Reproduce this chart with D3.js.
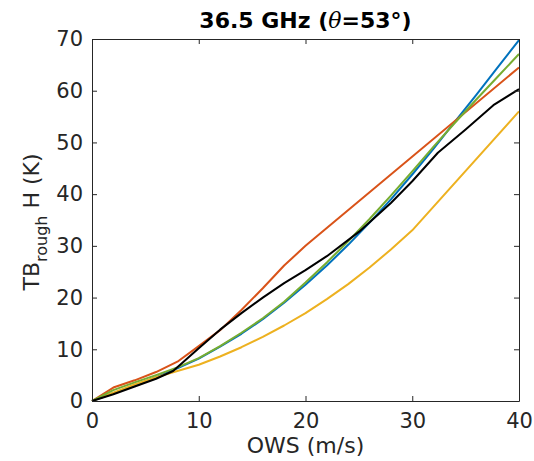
<!DOCTYPE html>
<html>
<head>
<meta charset="utf-8">
<script src="https://cdn.jsdelivr.net/npm/d3@7"></script>
<style>
body { margin:0; background:#fff; }
text { font-family: "DejaVu Sans", sans-serif; fill:#262626; }
</style>
</head>
<body>
<svg id="svg1" width="534" height="461"></svg>
<script>
var svg1 = d3.select('#svg1');
var mLeft = 92, mRight = 519, mTop = 39, mBottom = 401;

// wind speed (m/s) and brightness temperature (K) per curve
var ows_a = [0,2,4,6,8,10,12,14,16,18,20,22,24,26,28,30,32,34,36,38,40];
var blue   = [0,1.5,3,4.6,6.3,8.2,10.5,13,15.8,19,22.5,26.2,30.2,34.5,39,43.8,48.8,54,59.2,64.5,69.8];
var green  = [0,2.1,3.6,5,6.5,8.3,10.6,13.2,16,19.2,22.9,26.8,30.9,35.2,39.7,44.4,49.2,53.8,58.3,62.7,67.1];
var ows_o = [0,2,4,6,8,10,12,14,16,18,20,40];
var orange = [0,2.6,4,5.6,7.6,10.6,13.7,17.6,21.8,26.2,30,64.5];
var ows_y = [0,2,4,6,8,10,12,14,16,18,20,22,24,26,28,30,40];
var yellow = [0,1.6,3.2,4.6,5.8,7,8.6,10.4,12.4,14.6,17,19.7,22.6,25.8,29.3,33,56];
var ows_k = [0,2,4,6,7.6,10,12,14,16,18,20,22,25,28,30,32.4,35,37.6,40];
var black  = [0,1.3,2.8,4.3,5.8,10.2,13.8,17,20,22.8,25.3,28,32.7,38.3,42.5,48,52.5,57.2,60.3];

var xTicks = [0,10,20,30,40];
var yTicks = [0,10,20,30,40,50,60,70];

var series = [
	{x: ows_a, y: blue, c: '#0072BD'},
	{x: ows_o, y: orange, c: '#D95319'},
	{x: ows_y, y: yellow, c: '#EDB120'},
	{x: ows_a, y: green, c: '#77AC30'},
	{x: ows_k, y: black, c: '#000000'}
];

var x = d3.scaleLinear().domain([0,40]).range([mLeft,mRight]);
var y = d3.scaleLinear().domain([0,70]).range([mBottom,mTop]);

var line = d3.line().x(d => x(d[0])).y(d => y(d[1]));
svg1.selectAll('path.s').data(series).enter().append('path')
	.attr('class','s')
	.attr('d', s => line(s.x.map((v,i) => [v, s.y[i]])))
	.attr('fill','none').attr('stroke', s => s.c).attr('stroke-width', 2)
	.attr('stroke-linejoin','round');

// axes (box on, ticks inward)
var tl = 5;
function styleAxis(g) {
	g.select('.domain').attr('stroke','#262626');
	g.selectAll('.tick line').attr('stroke','#262626');
	g.selectAll('text').style('font-size','21px').attr('fill','#262626');
}
svg1.append('g').attr('transform','translate(0,'+mBottom+')')
	.call(d3.axisBottom(x).tickValues(xTicks).tickSizeInner(-tl).tickSizeOuter(0).tickPadding(12))
	.call(styleAxis);
svg1.append('g').attr('transform','translate(0,'+mTop+')')
	.call(d3.axisTop(x).tickValues(xTicks).tickSizeInner(-tl).tickSizeOuter(0).tickFormat(''))
	.call(styleAxis);
svg1.append('g').attr('transform','translate('+mLeft+',0)')
	.call(d3.axisLeft(y).tickValues(yTicks).tickSizeInner(-tl).tickSizeOuter(0).tickPadding(9))
	.call(styleAxis);
svg1.append('g').attr('transform','translate('+mRight+',0)')
	.call(d3.axisRight(y).tickValues(yTicks).tickSizeInner(-tl).tickSizeOuter(0).tickFormat(''))
	.call(styleAxis);

// title
var t = svg1.append('text').attr('x',(mLeft+mRight)/2).attr('y',28)
	.attr('text-anchor','middle').style('font-size','22px').style('font-weight','bold');
t.append('tspan').text('36.5 GHz (');
t.append('tspan').style('font-style','italic').style('font-weight','normal').style('font-family','"DejaVu Serif", serif').text('θ');
t.append('tspan').text('=53°)');
t.selectAll('tspan').style('fill','#000');

// axis labels
svg1.append('text').attr('x',(mLeft+mRight)/2).attr('y',453)
	.attr('text-anchor','middle').style('font-size','22px').text('OWS (m/s)');
var yl = svg1.append('text').attr('transform','translate(39,222) rotate(-90)')
	.attr('text-anchor','middle').style('font-size','22px');
yl.append('tspan').text('TB');
yl.append('tspan').attr('dy',8).style('font-size','16px').text('rough');
yl.append('tspan').attr('dy',-8).text(' H (K)');
</script>
</body>
</html>
